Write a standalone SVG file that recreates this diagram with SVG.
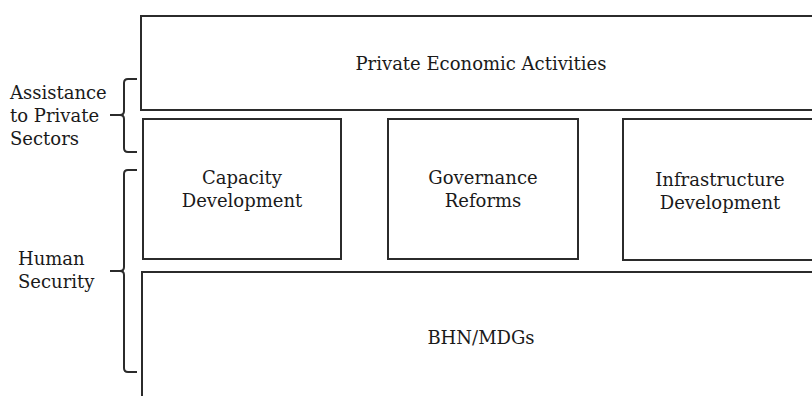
<svg xmlns="http://www.w3.org/2000/svg" width="812" height="396" viewBox="0 0 812 396">
  <style>
    .box { fill: #ffffff; stroke: #2b2b2b; stroke-width: 2; }
    .brace { fill: none; stroke: #2b2b2b; stroke-width: 2; stroke-linejoin: round; }
    text { font-family: "DejaVu Serif", "Liberation Serif", serif; font-size: 18px; fill: #1a1a1a; }
    .c { text-anchor: middle; }
  </style>
  <rect width="812" height="396" fill="#ffffff"/>

  <g id="private-economic-activities">
    <rect class="box" x="141" y="16" width="680" height="94"/>
    <text class="c" x="481" y="70">Private Economic Activities</text>
  </g>

  <g id="capacity-development">
    <rect class="box" x="143" y="119" width="198" height="140"/>
    <text class="c" x="242" y="184">Capacity</text>
    <text class="c" x="242" y="207">Development</text>
  </g>

  <g id="governance-reforms">
    <rect class="box" x="388" y="119" width="190" height="140"/>
    <text class="c" x="483" y="184">Governance</text>
    <text class="c" x="483" y="207">Reforms</text>
  </g>

  <g id="infrastructure-development">
    <rect class="box" x="623" y="119" width="200" height="141"/>
    <text class="c" x="720" y="186">Infrastructure</text>
    <text class="c" x="720" y="209">Development</text>
  </g>

  <g id="bhn-mdgs">
    <rect class="box" x="142" y="272" width="680" height="140"/>
    <text class="c" x="481" y="344">BHN/MDGs</text>
  </g>

  <g id="assistance-to-private-sectors">
    <path class="brace" d="M137,79 H128 Q124,79 124,83 V111 Q124,115 120,115 H110 M120,115 Q124,115 124,119 V148 Q124,152 128,152 H137"/>
    <text x="10" y="99">Assistance</text>
    <text x="10" y="122">to Private</text>
    <text x="10" y="145">Sectors</text>
  </g>

  <g id="human-security">
    <path class="brace" d="M137,170 H128 Q124,170 124,174 V267 Q124,271 120,271 H110 M120,271 Q124,271 124,275 V368 Q124,372 128,372 H137"/>
    <text x="18" y="265">Human</text>
    <text x="18" y="288">Security</text>
  </g>
</svg>
